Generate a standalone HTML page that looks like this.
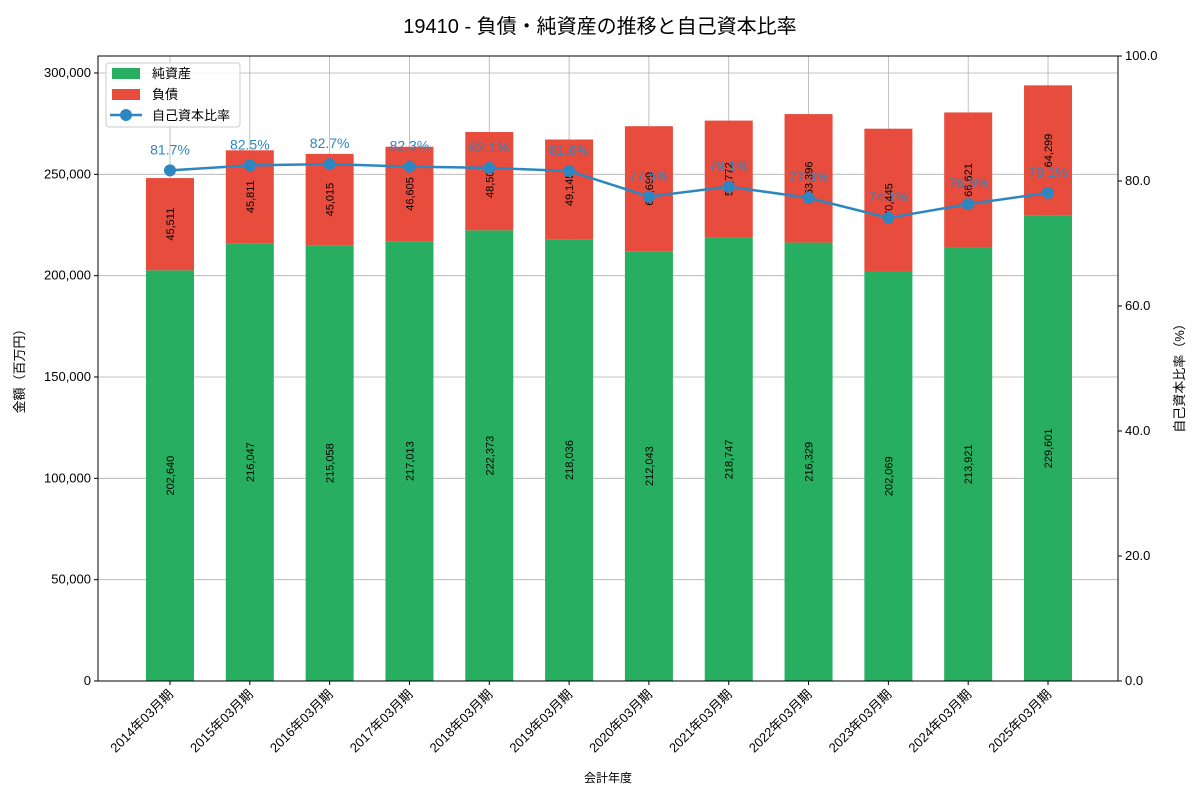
<!DOCTYPE html>
<html><head><meta charset="utf-8"><style>
body{margin:0;background:#fff}
svg text{font-family:"Liberation Sans","Noto Sans CJK JP",sans-serif}
</style></head><body>
<svg id="c" width="1200" height="800" xmlns="http://www.w3.org/2000/svg"></svg>
<script>
const categories=["2014年03月期","2015年03月期","2016年03月期","2017年03月期","2018年03月期","2019年03月期","2020年03月期","2021年03月期","2022年03月期","2023年03月期","2024年03月期","2025年03月期"];
const equity=[202640,216047,215058,217013,222373,218036,212043,218747,216329,202069,213921,229601];
const liabilities=[45511,45811,45015,46605,48500,49145,61699,57772,63396,70445,66621,64299];
const ratio=[81.7,82.5,82.7,82.3,82.1,81.6,77.5,79.1,77.3,74.1,76.3,78.1];
const leftTicks=[0,50000,100000,150000,200000,250000,300000];
const rightTicks=[0,20,40,60,80,100];

const svg=document.getElementById('c');const NS="http://www.w3.org/2000/svg";
const L=98,R=1118,T=56,B=681;
const x=i=>170+79.82*i;
const yL=v=>B-(v/308388)*(B-T);
const yR=v=>B-(v/100)*(B-T);
function el(tag,attrs,name,text){const e=document.createElementNS(NS,tag);for(const k in attrs)e.setAttribute(k,attrs[k]);


if(text!==undefined)e.textContent=text;svg.appendChild(e);return e;}
const fmt=v=>v.toLocaleString('en-US');
el('text',{x:600,y:33,'text-anchor':'middle','font-size':20,fill:'#000'},'chart-title','19410 - 負債・純資産の推移と自己資本比率');
// grid
leftTicks.forEach(t=>{el('line',{x1:L,x2:R,y1:yL(t),y2:yL(t),stroke:'#b0b0b0','stroke-width':0.8},'grid-line-y');
el('line',{x1:L-4,x2:L,y1:yL(t),y2:yL(t),stroke:'#000'},'y-tick');
el('text',{x:L-7,y:yL(t)+4,'text-anchor':'end','font-size':13},'y-tick-label',fmt(t));});
categories.forEach((c,i)=>{el('line',{x1:x(i),x2:x(i),y1:T,y2:B,stroke:'#b0b0b0','stroke-width':0.8},'grid-line-x');
el('line',{x1:x(i),x2:x(i),y1:B,y2:B+4,stroke:'#000'},'x-tick');
el('text',{x:x(i)+4,y:B+14,'text-anchor':'end','font-size':13,transform:`rotate(-45 ${x(i)+4} ${B+14})`},'x-tick-label',c);});
rightTicks.forEach(t=>{el('line',{x1:R,x2:R+4,y1:yR(t),y2:yR(t),stroke:'#000'},'y2-tick');
el('text',{x:R+7,y:yR(t)+4,'font-size':13},'y2-tick-label',t.toFixed(1));});
// bars
const bw=48;
categories.forEach((c,i)=>{
 const y0=yL(equity[i]),y1=yL(equity[i]+liabilities[i]);
 el('rect',{x:x(i)-bw/2,y:y0,width:bw,height:B-y0,fill:'#27ae60'},'bar-equity');
 el('rect',{x:x(i)-bw/2,y:y1,width:bw,height:y0-y1,fill:'#e74c3c'},'bar-liabilities');
 let ym=(B+y0)/2;el('text',{x:x(i)+4,y:ym,'text-anchor':'middle','font-size':11,transform:`rotate(-90 ${x(i)+4} ${ym})`},'equity-value',fmt(equity[i]));
 ym=(y0+y1)/2;el('text',{x:x(i)+4,y:ym,'text-anchor':'middle','font-size':11,transform:`rotate(-90 ${x(i)+4} ${ym})`},'liabilities-value',fmt(liabilities[i]));
});
// line
el('polyline',{points:ratio.map((r,i)=>x(i)+','+yR(r)).join(' '),fill:'none',stroke:'#2e86c1','stroke-width':2.5},'ratio-line');
ratio.forEach((r,i)=>{el('circle',{cx:x(i),cy:yR(r),r:6,fill:'#2e86c1'},'ratio-point');
el('text',{x:x(i),y:yR(r)-16,'text-anchor':'middle','font-size':14,fill:'#2e86c1'},'ratio-label',r.toFixed(1)+'%');});
// axes frame
el('rect',{x:L,y:T,width:R-L,height:B-T,fill:'none',stroke:'#000','stroke-width':1},'plot-frame');
el('text',{x:24,y:368,'text-anchor':'middle','font-size':13,transform:'rotate(-90 24 368)'},'y-axis-title','金額（百万円）');
el('text',{x:1184,y:375,'text-anchor':'middle','font-size':13,transform:'rotate(-90 1184 375)'},'y2-axis-title','自己資本比率（%）');
el('text',{x:608,y:782,'text-anchor':'middle','font-size':12},'x-axis-title','会計年度');
// legend
el('rect',{x:106,y:63,width:134,height:64,fill:'#fff','fill-opacity':0.85,stroke:'#ccc',rx:3},'legend-box');
el('rect',{x:112,y:68,width:28,height:11,fill:'#27ae60'},'legend-equity-swatch');
el('text',{x:152,y:78,'font-size':13},'legend-equity','純資産');
el('rect',{x:112,y:89,width:28,height:11,fill:'#e74c3c'},'legend-liabilities-swatch');
el('text',{x:152,y:99,'font-size':13},'legend-liabilities','負債');
el('line',{x1:110,x2:142,y1:115,y2:115,stroke:'#2e86c1','stroke-width':2.5},'legend-ratio-line');
el('circle',{cx:126,cy:115,r:6,fill:'#2e86c1'},'legend-ratio-marker');
el('text',{x:152,y:120,'font-size':13},'legend-ratio','自己資本比率');
</script>
</body></html>
